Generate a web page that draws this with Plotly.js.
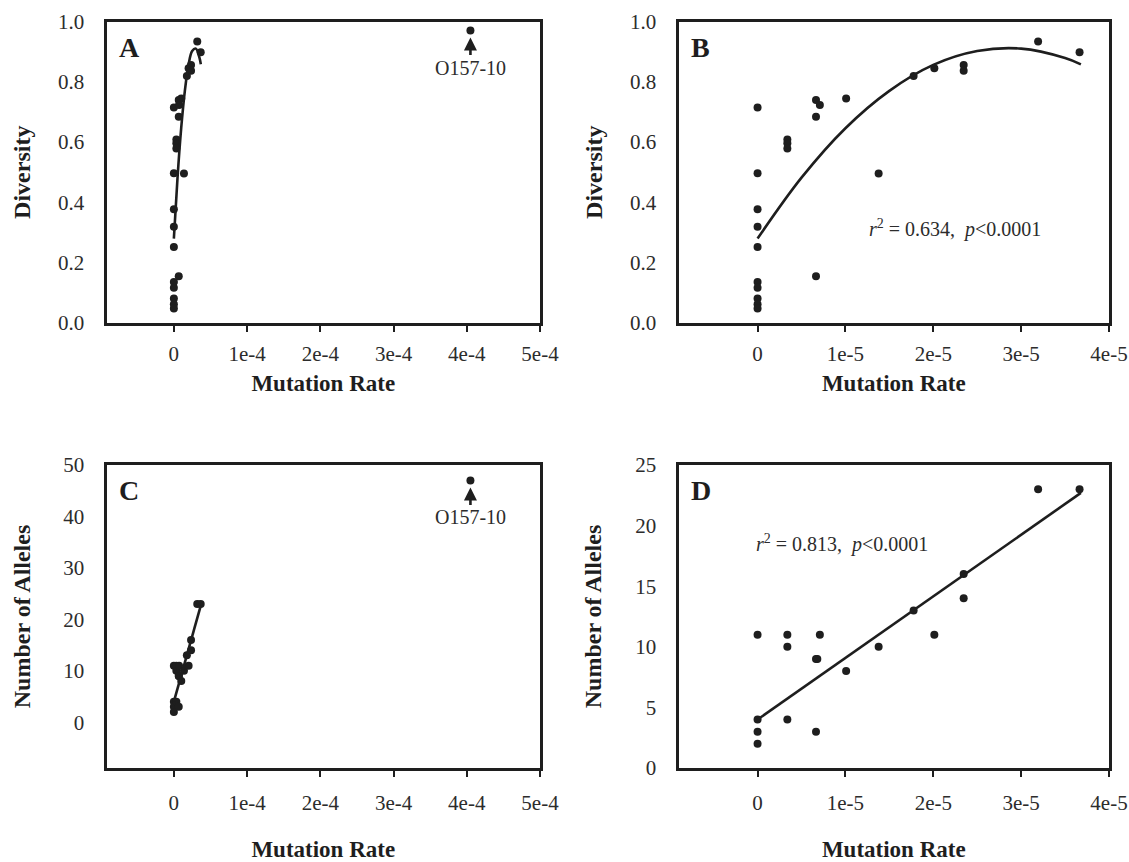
<!DOCTYPE html>
<html>
<head>
<meta charset="utf-8">
<script src="https://cdn.plot.ly/plotly-3.0.1.min.js"></script>
<style>html,body{margin:0;padding:0;background:#fff;}#chart{width:1129px;height:862px;}</style>
</head>
<body>
<div id="chart"></div>
<script>
// ---- Data ----
// Panels A/B: mutation rate vs diversity
const divRate = [0,0,0,0,0,0,0,0,0,0, 3.39e-6,3.39e-6,3.39e-6, 6.65e-6,6.65e-6,6.65e-6, 7.09e-6, 1.008e-5, 1.378e-5, 1.776e-5, 2.012e-5, 2.346e-5,2.346e-5, 3.193e-5, 3.665e-5];
const divValue = [0.715,0.497,0.377,0.319,0.252,0.136,0.117,0.081,0.062,0.048, 0.609,0.596,0.579, 0.740,0.684,0.155, 0.723, 0.745, 0.496, 0.819, 0.845, 0.856,0.837, 0.934, 0.898];
// Quadratic fit curve
const divFitRate = [0, 0.5e-5, 1e-5, 1.5e-5, 2e-5, 2.5e-5, 3e-5, 3.5e-5, 3.68e-5];
const divFitValue = [0.28, 0.482, 0.646, 0.770, 0.856, 0.902, 0.910, 0.879, 0.858];

// Panels C/D: mutation rate vs number of alleles
const alleleRate = [0,0,0,0, 3.39e-6,3.39e-6,3.39e-6, 6.65e-6,6.8e-6,6.65e-6, 7.09e-6, 1.008e-5, 1.378e-5, 1.776e-5, 2.012e-5, 2.346e-5,2.346e-5, 3.193e-5, 3.665e-5];
const alleleCount = [11,4,3,2, 11,10,4, 9,9,3, 11, 8, 10, 13, 11, 16,14, 23, 23];
// Linear fit line endpoints
const alleleFitRate = [0, 3.68e-5];
const alleleFitCount = [4.0, 22.7];

// Outlier strain O157-10
const outlierName = 'O157-10';
const outlierRate = 4.05e-4;
const outlierDiversity = 0.97;
const outlierAlleles = 47;

// Tick labels
const wideTickVals = [0, 1e-4, 2e-4, 3e-4, 4e-4, 5e-4];
const wideTickText = ['0', '1e-4', '2e-4', '3e-4', '4e-4', '5e-4'];
const narrowTickVals = [0, 1e-5, 2e-5, 3e-5, 4e-5];
const narrowTickText = ['0', '1e-5', '2e-5', '3e-5', '4e-5'];
const diversityTicks = [0, 0.2, 0.4, 0.6, 0.8, 1.0];
const allelesTicksWide = [0, 10, 20, 30, 40, 50];
const allelesTicksNarrow = [0, 5, 10, 15, 20, 25];
const panelLabels = ['A', 'B', 'C', 'D'];
const xTitle = 'Mutation Rate';
const yTitleTop = 'Diversity';
const yTitleBottom = 'Number of Alleles';

// ---- Styles ----
const FONT = '"Liberation Serif", serif';
const INK = '#1e1e1e';
const TXT = '#2c2c2c';
const dot = {size: 8, color: INK};
const fitLine = {color: INK, width: 2.6};

const traces = [
  {x: divRate.concat([outlierRate]), y: divValue.concat([outlierDiversity]), mode: 'markers', marker: dot, xaxis: 'x', yaxis: 'y'},
  {x: divFitRate, y: divFitValue, mode: 'lines', line: Object.assign({shape: 'spline'}, fitLine), xaxis: 'x', yaxis: 'y'},
  {x: divRate, y: divValue, mode: 'markers', marker: dot, xaxis: 'x2', yaxis: 'y2'},
  {x: divFitRate, y: divFitValue, mode: 'lines', line: Object.assign({shape: 'spline'}, fitLine), xaxis: 'x2', yaxis: 'y2'},
  {x: alleleRate.concat([outlierRate]), y: alleleCount.concat([outlierAlleles]), mode: 'markers', marker: dot, xaxis: 'x3', yaxis: 'y3'},
  {x: alleleFitRate, y: alleleFitCount, mode: 'lines', line: fitLine, xaxis: 'x3', yaxis: 'y3'},
  {x: alleleRate, y: alleleCount, mode: 'markers', marker: dot, xaxis: 'x4', yaxis: 'y4'},
  {x: alleleFitRate, y: alleleFitCount, mode: 'lines', line: fitLine, xaxis: 'x4', yaxis: 'y4'}
];

const W = 1129, H = 862;
const colL = [106.5 / W, 540 / W];
const colR = [678.5 / W, 1109 / W];
const rowT = [1 - 323 / H, 1 - 21.5 / H];
const rowB = [1 - 768 / H, 1 - 465 / H];

function axisBase() {
  return {
    showline: true, linewidth: 3, linecolor: INK, mirror: true,
    ticks: 'outside', ticklen: 6, tickwidth: 2, tickcolor: INK,
    showgrid: false, zeroline: false, fixedrange: true,
    tickfont: {family: FONT, size: 21, color: TXT}
  };
}
function titleObj(text, standoff, size) {
  return {text: text, standoff: standoff, font: {family: FONT, size: size, color: INK, weight: 'bold'}};
}
function xAx(domain, range, vals, text, anchor, standoff, labelStand) {
  return Object.assign(axisBase(), {domain: domain, range: range, tickmode: 'array', tickvals: vals, ticktext: text,
    anchor: anchor, title: titleObj(xTitle, standoff, 23), ticklabelstandoff: labelStand});
}
// main y axis: labels pushed away from the frame by long transparent ticks
function yAx(domain, range, vals, fmt, anchor, title, standoff) {
  return Object.assign(axisBase(), {domain: domain, range: range, tickmode: 'array', tickvals: vals, tickformat: fmt,
    anchor: anchor, title: titleObj(title, standoff, 24), ticklen: 15, tickcolor: 'rgba(0,0,0,0)'});
}
// twin y axis that only draws the short visible ticks
function yTicks(over, range, vals, anchor) {
  return {overlaying: over, anchor: anchor, side: 'left', range: range, tickmode: 'array', tickvals: vals,
    ticks: 'outside', ticklen: 6, tickwidth: 2, tickcolor: INK, showticklabels: false,
    showline: false, showgrid: false, zeroline: false, fixedrange: true};
}

const panelPos = [[colL, rowT], [colR, rowT], [colL, rowB], [colR, rowB]];
const annotations = panelLabels.map(function (lab, i) {
  return {text: lab, xref: 'paper', yref: 'paper', x: panelPos[i][0][0] + 10 / W, y: panelPos[i][1][1] - 8 / H,
    xanchor: 'left', yanchor: 'top', showarrow: false, font: {family: FONT, size: 28, color: INK, weight: 'bold'}};
});
annotations.push(
  {text: outlierName, x: outlierRate, y: outlierDiversity, xref: 'x', yref: 'y', showarrow: true,
   arrowhead: 2, arrowsize: 1, arrowwidth: 2.6, arrowcolor: INK, standoff: 7, ax: 0, ay: 37,
   font: {family: FONT, size: 20, color: TXT}},
  {text: outlierName, x: outlierRate, y: outlierAlleles, xref: 'x3', yref: 'y3', showarrow: true,
   arrowhead: 2, arrowsize: 1, arrowwidth: 2.6, arrowcolor: INK, standoff: 7, ax: 0, ay: 37,
   font: {family: FONT, size: 20, color: TXT}},
  {text: '<i>r</i><sup>2</sup> = 0.634,  <i>p</i>&lt;0.0001', xref: 'paper', yref: 'paper', x: 955 / W, y: 1 - 228 / H,
   xanchor: 'center', yanchor: 'middle', showarrow: false, font: {family: FONT, size: 20, color: TXT}},
  {text: '<i>r</i><sup>2</sup> = 0.813,  <i>p</i>&lt;0.0001', xref: 'paper', yref: 'paper', x: 842 / W, y: 1 - 543 / H,
   xanchor: 'center', yanchor: 'middle', showarrow: false, font: {family: FONT, size: 20, color: TXT}}
);

const layout = {
  width: W, height: H, margin: {l: 0, r: 0, t: 0, b: 0},
  paper_bgcolor: '#fff', plot_bgcolor: '#fff', showlegend: false,
  xaxis: xAx(colL, [-0.92e-4, 5e-4], wideTickVals, wideTickText, 'y', 10, 4),
  yaxis: yAx(rowT, [0, 1], diversityTicks, '.1f', 'x', yTitleTop, 21),
  xaxis2: xAx(colR, [-0.9e-5, 4e-5], narrowTickVals, narrowTickText, 'y2', 10, 4),
  yaxis2: yAx(rowT, [0, 1], diversityTicks, '.1f', 'x2', yTitleTop, 21),
  xaxis3: xAx(colL, [-0.92e-4, 5e-4], wideTickVals, wideTickText, 'y3', 30, 8),
  yaxis3: yAx(rowB, [-8.9, 50], allelesTicksWide, '', 'x3', yTitleBottom, 26),
  xaxis4: xAx(colR, [-0.9e-5, 4e-5], narrowTickVals, narrowTickText, 'y4', 30, 8),
  yaxis4: yAx(rowB, [0, 25], allelesTicksNarrow, '', 'x4', yTitleBottom, 27),
  yaxis5: yTicks('y', [0, 1], diversityTicks, 'x'),
  yaxis6: yTicks('y2', [0, 1], diversityTicks, 'x2'),
  yaxis7: yTicks('y3', [-8.9, 50], allelesTicksWide, 'x3'),
  yaxis8: yTicks('y4', [0, 25], allelesTicksNarrow, 'x4'),
  annotations: annotations
};

Plotly.newPlot('chart', traces, layout, {displayModeBar: false, staticPlot: true});
</script>
</body>
</html>
